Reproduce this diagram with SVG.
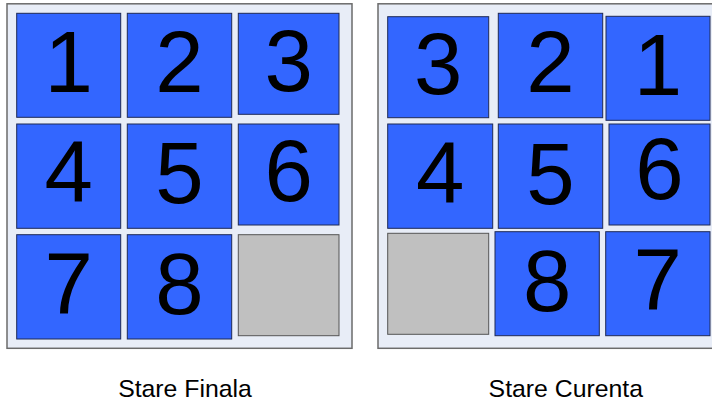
<svg xmlns="http://www.w3.org/2000/svg" width="712" height="410" viewBox="0 0 712 410">
<style>
.frame{fill:#e8edf7;stroke:#6b6b6b;stroke-width:1.5}
.tile{fill:#3366ff;stroke:#1f2a55;stroke-width:1}
.blank{fill:#c0c0c0;stroke:#555;stroke-width:1}
.num{font-family:"Liberation Sans",Arial,sans-serif;font-size:87px;fill:#000;text-anchor:middle}
.lbl{font-family:"Liberation Sans",Arial,sans-serif;font-size:24.8px;fill:#000;text-anchor:middle}
</style>
<g id="final">
<rect class="frame" x="7" y="3.8" width="345" height="344.5"/>
<g id="f1"><rect class="tile" x="16.7" y="13.3" width="104" height="104"/><text class="num" x="68.7" y="92">1</text></g>
<g id="f2"><rect class="tile" x="127.3" y="13.3" width="104.4" height="104"/><text class="num" x="179.5" y="92">2</text></g>
<g id="f3"><rect class="tile" x="238.3" y="13.3" width="100.7" height="101"/><text class="num" x="288.7" y="91">3</text></g>
<g id="f4"><rect class="tile" x="16.7" y="124" width="104" height="104.3"/><text class="num" x="68.7" y="202">4</text></g>
<g id="f5"><rect class="tile" x="127.3" y="124" width="104.4" height="104.3"/><text class="num" x="179.5" y="202.5">5</text></g>
<g id="f6"><rect class="tile" x="238.3" y="124" width="100.7" height="101"/><text class="num" x="288.7" y="201">6</text></g>
<g id="f7"><rect class="tile" x="16.7" y="234.7" width="104" height="104.3"/><text class="num" x="68.7" y="314">7</text></g>
<g id="f8"><rect class="tile" x="127.3" y="234.7" width="104.4" height="104.3"/><text class="num" x="179.5" y="313.5">8</text></g>
<g id="fblank"><rect class="blank" x="238.3" y="234.7" width="100.7" height="101"/></g>
<text class="lbl" x="185" y="396.7">Stare Finala</text>
</g>
<g id="current">
<rect class="frame" x="378" y="3.8" width="340" height="344.5"/>
<g id="c3"><rect class="tile" x="387.7" y="16.7" width="101" height="101"/><text class="num" x="438.2" y="93.5">3</text></g>
<g id="c2"><rect class="tile" x="498.3" y="13.3" width="104.4" height="104.4"/><text class="num" x="550.5" y="91.7">2</text></g>
<g id="c1"><rect class="tile" x="606" y="16.3" width="104" height="104"/><text class="num" x="658" y="95">1</text></g>
<g id="c4"><rect class="tile" x="387.7" y="124" width="105" height="104.3"/><text class="num" x="440.2" y="202.5">4</text></g>
<g id="c5"><rect class="tile" x="498.3" y="124" width="104.4" height="104.3"/><text class="num" x="550.5" y="203.8">5</text></g>
<g id="c6"><rect class="tile" x="609" y="124" width="101" height="101"/><text class="num" x="659.5" y="198.5">6</text></g>
<g id="cblank"><rect class="blank" x="387.7" y="233.3" width="101" height="101"/></g>
<g id="c8"><rect class="tile" x="495" y="231.7" width="104.3" height="104"/><text class="num" x="547.2" y="310.5">8</text></g>
<g id="c7"><rect class="tile" x="605.7" y="231.7" width="104.3" height="104"/><text class="num" x="657.8" y="310">7</text></g>
<text class="lbl" x="565.8" y="397.3">Stare Curenta</text>
</g>
<g id="connectors"/>
</svg>
